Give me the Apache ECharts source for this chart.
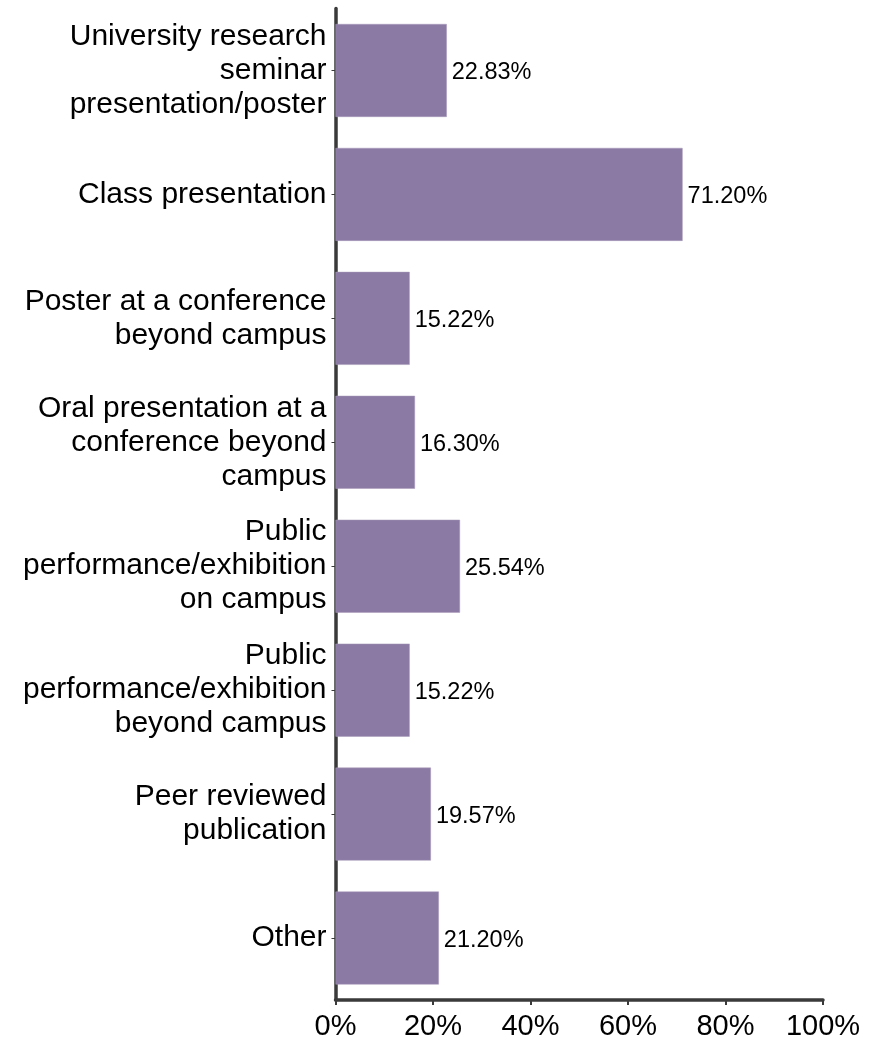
<!DOCTYPE html>
<html>
<head>
<meta charset="utf-8">
<script src="https://cdn.jsdelivr.net/npm/echarts@6/dist/echarts.min.js"></script>
<style>
html,body{margin:0;padding:0;background:#fff;}
#chart{width:880px;height:1041px;}
</style>
</head>
<body>
<div id="chart"></div>
<script>
var categories = [
  "University research\nseminar\npresentation/poster",
  "Class presentation",
  "Poster at a conference\nbeyond campus",
  "Oral presentation at a\nconference beyond\ncampus",
  "Public\nperformance/exhibition\non campus",
  "Public\nperformance/exhibition\nbeyond campus",
  "Peer reviewed\npublication",
  "Other"
];
var values = [22.83, 71.20, 15.22, 16.30, 25.54, 15.22, 19.57, 21.20];
var xTicks = [0, 20, 40, 60, 80, 100];

var chart = echarts.init(document.getElementById('chart'), null, {renderer: 'canvas'});
chart.setOption({
  animation: false,
  backgroundColor: '#ffffff',
  grid: {left: 335.5, right: 57, top: 8.5, bottom: 40, containLabel: false},
  xAxis: {
    type: 'value',
    min: xTicks[0],
    max: xTicks[xTicks.length - 1],
    interval: 20,
    splitLine: {show: false},
    axisLine: {show: true, lineStyle: {color: '#3a3a3a', width: 3.5}},
    axisTick: {show: true, length: 5, lineStyle: {color: '#3a3a3a', width: 2}},
    axisLabel: {
      formatter: '{value}%',
      fontFamily: 'Liberation Sans, Arial, sans-serif',
      fontSize: 29,
      color: '#000000',
      margin: 12
    }
  },
  yAxis: {
    type: 'category',
    inverse: true,
    data: categories,
    axisLine: {show: true, lineStyle: {color: '#3a3a3a', width: 3.5}},
    axisTick: {show: true, alignWithLabel: true, length: 4, lineStyle: {color: '#3a3a3a', width: 1}},
    axisLabel: {
      fontFamily: 'Liberation Sans, Arial, sans-serif',
      fontSize: 30,
      lineHeight: 34,
      color: '#000000',
      margin: 9,
      align: 'right',
      padding: [5, 0, 0, 0]
    },
    splitLine: {show: false}
  },
  series: [{
    type: 'bar',
    data: values,
    barCategoryGap: '25%',
    itemStyle: {color: '#8b7aa4', borderColor: '#a698b8', borderWidth: 0.5},
    label: {
      show: true,
      position: 'right',
      distance: 5,
      offset: [0, 2],
      formatter: function(p){ return p.value.toFixed(2) + '%'; },
      fontFamily: 'Liberation Sans, Arial, sans-serif',
      fontSize: 23.5,
      color: '#000000'
    }
  }]
});
</script>
</body>
</html>
